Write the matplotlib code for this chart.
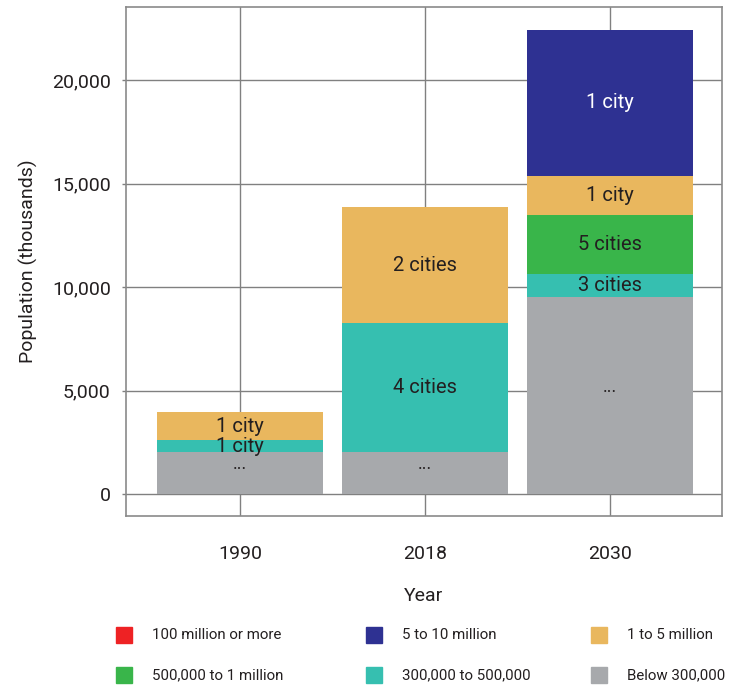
import numpy as np
import matplotlib.pyplot as plt
from matplotlib.patches import Rectangle

plt.rcParams['font.family'] = ['Roboto', 'DejaVu Sans']

# data (population in thousands)
years = ['1990', '2018', '2030']
categories = ['100 million or more', '5 to 10 million', '1 to 5 million',
              '500,000 to 1 million', '300,000 to 500,000', 'Below 300,000']
colors = ['#EE2224', '#2E3192', '#E9B75E', '#39B54A', '#36BFB0', '#A7A9AC']

# stacked from the bottom: below 300k, 300-500k, 500k-1M, 1-5M, 5-10M, 100M+
below_300k = [2020, 2020, 9500]
k300_500 = [590, 6230, 1150]
k500_1m = [0, 0, 2830]
m1_5 = [1350, 5610, 1890]
m5_10 = [0, 0, 7050]
m100 = [0, 0, 0]

below_lbl = ['...', '...', '...']
k300_lbl = ['1 city', '4 cities', '3 cities']
k500_lbl = ['', '', '5 cities']
m1_5_lbl = ['1 city', '2 cities', '1 city']
m5_10_lbl = ['', '', '1 city']
m100_lbl = ['', '', '']

series = [
    (below_300k, colors[5], below_lbl),
    (k300_500, colors[4], k300_lbl),
    (k500_1m, colors[3], k500_lbl),
    (m1_5, colors[2], m1_5_lbl),
    (m5_10, colors[1], m5_10_lbl),
    (m100, colors[0], m100_lbl),
]

fig = plt.figure(figsize=(7.31, 6.89), dpi=100)
ax = fig.add_axes([0.1724, 0.2511, 0.8153, 0.7387])

x = np.arange(len(years))
bottom = np.zeros(len(years))
for vals, col, lbls in series:
    vals = np.array(vals, dtype=float)
    ax.bar(x, vals, bottom=bottom, width=0.9, color=col, zorder=3)
    for i, v in enumerate(vals):
        if v <= 0 or not lbls[i]:
            continue
        tc = 'white' if col == colors[1] else '#231F20'
        if lbls[i] == '...':
            ax.text(x[i], bottom[i] + v / 2, lbls[i], ha='center', va='bottom',
                    fontsize=13, color=tc, zorder=4)
        else:
            ax.text(x[i], bottom[i] + v / 2, lbls[i], ha='center', va='center',
                    fontsize=14.5, color=tc, zorder=4)
    bottom += vals

ax.set_xlim(-0.616, 2.605)
ax.set_ylim(-1060, 23530)
ax.set_xticks(x)
ax.set_xticklabels(years)
ax.set_yticks([0, 5000, 10000, 15000, 20000])
ax.set_yticklabels(['0', '5,000', '10,000', '15,000', '20,000'])
ax.tick_params(axis='x', length=0, pad=21, labelsize=14, labelcolor='#231F20')
ax.tick_params(axis='y', length=3, width=1, color='#808080', pad=8,
               labelsize=14, labelcolor='#231F20')
ax.grid(True, color='#808080', linewidth=1, zorder=0)
for s in ax.spines.values():
    s.set_color('#8a8a8a')
    s.set_linewidth(1.2)

ax.set_xlabel('Year', fontsize=14, color='#231F20', labelpad=17)
ax.set_ylabel('Population (thousands)', fontsize=14, color='#231F20', labelpad=10)

# legend laid out by hand, three columns, two rows
col_x = [116, 366, 591]
row_y = [635, 675]
W, H = 731, 689
for k, (lab, col) in enumerate(zip(categories, colors)):
    cx = col_x[k % 3]
    cy = row_y[k // 3]
    fig.add_artist(Rectangle((cx / W, 1 - (cy + 8) / H), 16 / W, 16 / H,
                             transform=fig.transFigure, color=col))
    fig.text((cx + 36) / W, 1 - cy / H, lab, ha='left', va='center',
             fontsize=10.8, color='#231F20')

plt.savefig('out.png', dpi=100)
